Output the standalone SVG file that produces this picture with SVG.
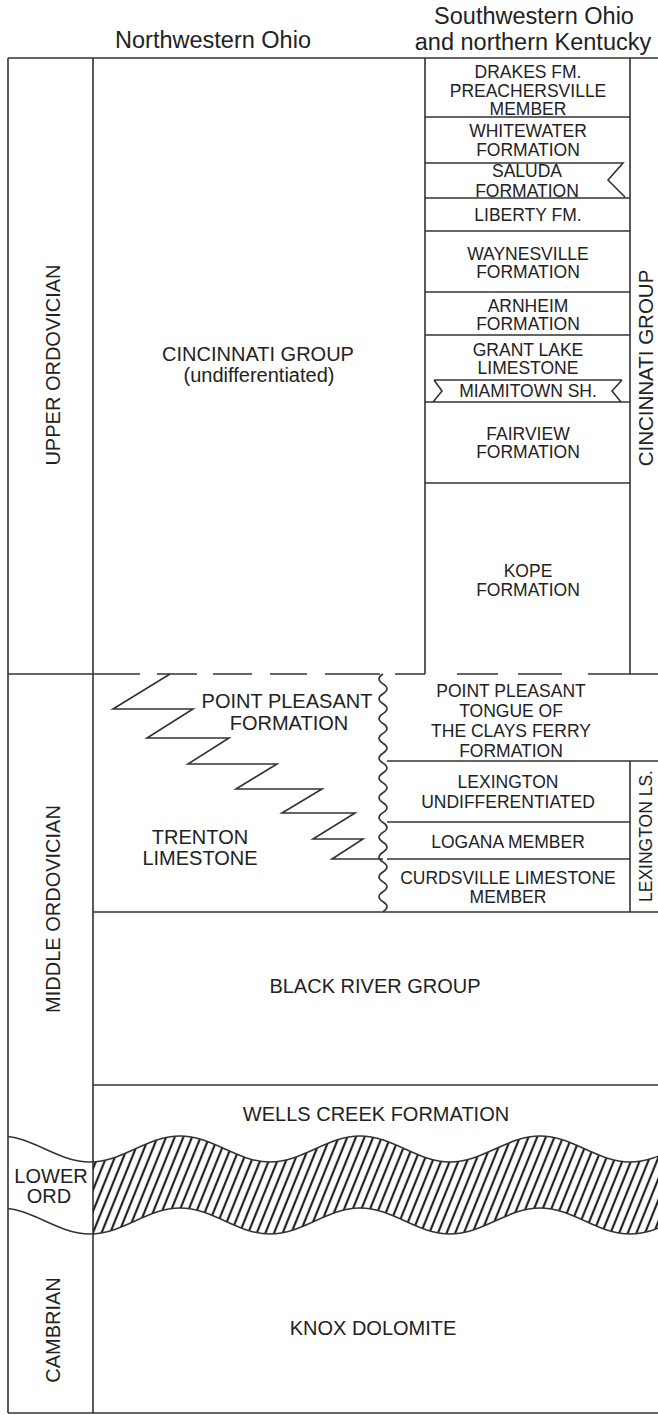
<svg xmlns="http://www.w3.org/2000/svg" width="658" height="1415" viewBox="0 0 658 1415">
<style>
text{font-family:"Liberation Sans",Arial,sans-serif;fill:#222;text-anchor:middle}
.h{font-size:23.5px}
.t{font-size:20px}
.r{font-size:17.5px}
.v{font-size:20px}
.ln{stroke:#333;stroke-width:1.6;fill:none}
</style>
<defs>
<pattern id="hatch" width="8" height="20" patternUnits="userSpaceOnUse" patternTransform="rotate(22)">
<line x1="4" y1="-2" x2="4" y2="22" stroke="#222" stroke-width="2.2"/>
</pattern>
<clipPath id="cHatch"><rect x="93" y="1100" width="600" height="200"/></clipPath>
<clipPath id="cWave"><rect x="8" y="1100" width="660" height="200"/></clipPath>
</defs>
<rect width="658" height="1415" fill="#fff"/>

<g id="headers">
<text class="h" x="213" y="48">Northwestern Ohio</text>
<text class="h" x="534" y="24">Southwestern Ohio</text>
<text class="h" x="533" y="50">and northern Kentucky</text>
</g>

<g id="frame" class="ln">
<path d="M8,58H658M8,58V1413M93,58V1413M8,1413H658M8,674H93"/>
<path d="M425,58V674M630,58V674"/>
<path d="M425,117H630M425,163H623L608,180L625,197M425,198H630M425,231H630M425,292H630M425,335H630"/>
<path d="M434,380H622M434,380L442,391L433,402M622,380L612,391L621,402M425,402H630M425,483H630"/>
<path d="M93,674H140M157,674H197M213,674H252M270,674H307M325,674H380M395,674H425M457,674H498M518,674H562M588,674H658"/>
<path d="M387,761H658M387,822H630M387,859H630M630,761V912M93,912H658M93,1085H658"/>
<path d="M383,674q-8,4.95 0,9.9q8,4.95 0,9.9q-8,4.95 0,9.9q8,4.95 0,9.9q-8,4.95 0,9.9q8,4.95 0,9.9q-8,4.95 0,9.9q8,4.95 0,9.9q-8,4.95 0,9.9q8,4.95 0,9.9q-8,4.95 0,9.9q8,4.95 0,9.9q-8,4.95 0,9.9q8,4.95 0,9.9q-8,4.95 0,9.9q8,4.95 0,9.9q-8,4.95 0,9.9q8,4.95 0,9.9q-8,4.95 0,9.9q8,4.95 0,9.9q-8,4.95 0,9.9q8,4.95 0,9.9q-8,4.95 0,9.9q8,4.95 0,9.9"/>
<path d="M170,674L113,709H193L147,738H229L188,764H277L236,789H322L282,813H355L313,839H363L332,859H383"/>
</g>

<g id="unconformity">
<path clip-path="url(#cHatch)" fill="url(#hatch)" stroke="none" d="M0,1136 C32.8,1136 57.2,1162 90,1162 C122.8,1162 147.2,1136 180,1136 C212.8,1136 237.2,1162 270,1162 C302.8,1162 327.2,1136 360,1136 C392.8,1136 417.2,1162 450,1162 C482.8,1162 507.2,1136 540,1136 C572.8,1136 597.2,1162 630,1162 C662.8,1162 687.2,1136 720,1136 L720,1208 C687.2,1208 662.8,1234 630,1234 C597.2,1234 572.8,1208 540,1208 C507.2,1208 482.8,1234 450,1234 C417.2,1234 392.8,1208 360,1208 C327.2,1208 302.8,1234 270,1234 C237.2,1234 212.8,1208 180,1208 C147.2,1208 122.8,1234 90,1234 C57.2,1234 32.8,1208 0,1208 Z"/>
<g clip-path="url(#cWave)" class="ln">
<path d="M0,1136 C32.8,1136 57.2,1162 90,1162 C122.8,1162 147.2,1136 180,1136 C212.8,1136 237.2,1162 270,1162 C302.8,1162 327.2,1136 360,1136 C392.8,1136 417.2,1162 450,1162 C482.8,1162 507.2,1136 540,1136 C572.8,1136 597.2,1162 630,1162 C662.8,1162 687.2,1136 720,1136"/>
<path d="M0,1208 C32.8,1208 57.2,1234 90,1234 C122.8,1234 147.2,1208 180,1208 C212.8,1208 237.2,1234 270,1234 C302.8,1234 327.2,1208 360,1208 C392.8,1208 417.2,1234 450,1234 C482.8,1234 507.2,1208 540,1208 C572.8,1208 597.2,1234 630,1234 C662.8,1234 687.2,1208 720,1208"/>
</g>
</g>

<g id="ages">
<text class="v" transform="translate(60,365) rotate(-90)">UPPER ORDOVICIAN</text>
<text class="v" transform="translate(60,909) rotate(-90)">MIDDLE ORDOVICIAN</text>
<g id="lower-ord"><text class="t" x="51" y="1183">LOWER</text><text class="t" x="49" y="1203">ORD</text></g>
<text class="v" transform="translate(60,1330) rotate(-90)">CAMBRIAN</text>
</g>

<g id="nw-units">
<g id="cincinnati-nw"><text class="t" x="258" y="361">CINCINNATI GROUP</text><text class="t" x="259" y="382">(undifferentiated)</text></g>
<g id="point-pleasant-nw"><text class="t" x="287" y="708">POINT PLEASANT</text><text class="t" x="289" y="730">FORMATION</text></g>
<g id="trenton"><text class="t" x="200" y="844">TRENTON</text><text class="t" x="200" y="865">LIMESTONE</text></g>
<text id="black-river" class="t" x="375" y="993">BLACK RIVER GROUP</text>
<text id="wells-creek" class="t" x="376" y="1121">WELLS CREEK FORMATION</text>
<text id="knox" class="t" x="373" y="1335">KNOX DOLOMITE</text>
</g>

<g id="sw-units">
<g id="drakes"><text class="r" x="528" y="78">DRAKES FM.</text><text class="r" x="528" y="97">PREACHERSVILLE</text><text class="r" x="528" y="115">MEMBER</text></g>
<g id="whitewater"><text class="r" x="528" y="137">WHITEWATER</text><text class="r" x="528" y="156">FORMATION</text></g>
<g id="saluda"><text class="r" x="527" y="177">SALUDA</text><text class="r" x="527" y="196.5">FORMATION</text></g>
<text id="liberty" class="r" x="528" y="221">LIBERTY FM.</text>
<g id="waynesville"><text class="r" x="528" y="260">WAYNESVILLE</text><text class="r" x="528" y="278">FORMATION</text></g>
<g id="arnheim"><text class="r" x="528" y="312">ARNHEIM</text><text class="r" x="528" y="330">FORMATION</text></g>
<g id="grant-lake"><text class="r" x="528" y="356">GRANT LAKE</text><text class="r" x="528" y="374">LIMESTONE</text></g>
<text id="miamitown" class="r" x="528" y="397">MIAMITOWN SH.</text>
<g id="fairview"><text class="r" x="528" y="440">FAIRVIEW</text><text class="r" x="528" y="458">FORMATION</text></g>
<g id="kope"><text class="r" x="528" y="577">KOPE</text><text class="r" x="528" y="596">FORMATION</text></g>
<text id="cincinnati-sw" class="v" transform="translate(653,368) rotate(-90)" style="font-size:20.5px">CINCINNATI GROUP</text>
<g id="point-pleasant-sw"><text class="r" x="511" y="697">POINT PLEASANT</text><text class="r" x="511" y="717">TONGUE OF</text><text class="r" x="511" y="737">THE CLAYS FERRY</text><text class="r" x="511" y="757">FORMATION</text></g>
<g id="lexington"><text class="r" x="508" y="788">LEXINGTON</text><text class="r" x="508" y="808">UNDIFFERENTIATED</text></g>
<text id="logana" class="r" x="508" y="848">LOGANA MEMBER</text>
<g id="curdsville"><text class="r" x="508" y="884">CURDSVILLE LIMESTONE</text><text class="r" x="508" y="903">MEMBER</text></g>
<text id="lexington-ls" class="r" transform="translate(652,836) rotate(-90)">LEXINGTON LS.</text>
</g>
</svg>
